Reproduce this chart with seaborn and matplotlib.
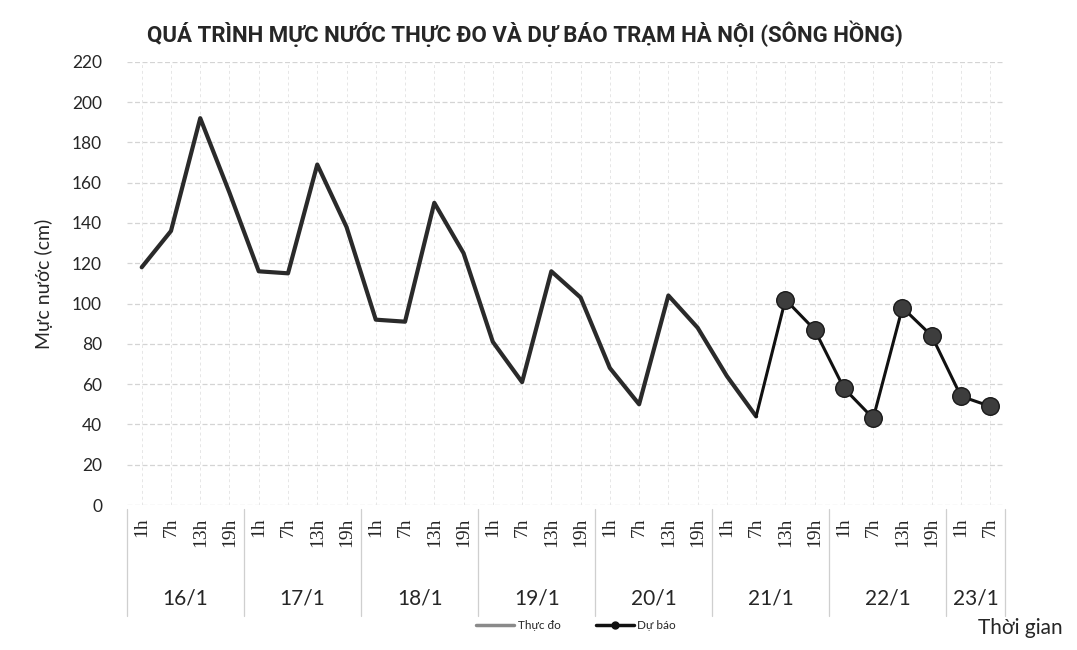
import numpy as np
import pandas as pd
import matplotlib.pyplot as plt
import seaborn as sns
from matplotlib.lines import Line2D

# Data
days = ['16/1', '17/1', '18/1', '19/1', '20/1', '21/1', '22/1', '23/1']
day_sizes = [4, 4, 4, 4, 4, 4, 4, 2]
hours = ['1h', '7h', '13h', '19h']

# Observed water level (cm), 16/1 1h -> 21/1 7h
observed = [118, 136, 192, 155, 116, 115, 169, 138, 92, 91, 150, 125,
            81, 61, 116, 103, 68, 50, 104, 88, 64, 44]
# Forecast water level (cm), 21/1 13h -> 23/1 7h
forecast = [102, 87, 58, 43, 98, 84, 54, 49]

hour_labels = [h for n in day_sizes for h in hours[:n]]
n_pts = len(hour_labels)

obs_df = pd.DataFrame({'x': np.arange(len(observed)), 'y': observed})
# forecast line starts from the last observed point
fc_line = pd.DataFrame({'x': np.arange(len(observed) - 1, n_pts),
                        'y': [observed[-1]] + forecast})
fc_pts = pd.DataFrame({'x': np.arange(len(observed), n_pts), 'y': forecast})

sns.set_theme(style='white')
plt.rcParams['font.family'] = ['Lato', 'DejaVu Sans']

fig = plt.figure(figsize=(10.77, 6.5), dpi=100)
ax = fig.add_axes([0.118, 0.223, 0.815, 0.682])

# grid
for v in range(0, 221, 20):
    ax.axhline(v, color='#d4d4d4', lw=0.9, ls=(0, (4, 2)), zorder=0)
for i in range(n_pts):
    ax.axvline(i, color='#e6e6e6', lw=0.7, ls=(0, (3, 3)), zorder=0)

sns.lineplot(data=obs_df, x='x', y='y', ax=ax, color='#2a2a2a', lw=3.0)
sns.lineplot(data=fc_line, x='x', y='y', ax=ax, color='#111111', lw=2.2)
sns.scatterplot(data=fc_pts, x='x', y='y', ax=ax, color='#3d3d3d', s=160,
                edgecolor='#1a1a1a', linewidth=1.0, zorder=5)

ax.set_xlim(-0.5, n_pts - 0.5)
ax.set_ylim(0, 220)
ax.set_yticks(range(0, 221, 20))
ax.tick_params(axis='y', labelsize=12.5, pad=18, length=0)
ax.set_xticks(range(n_pts))
ax.set_xticklabels(hour_labels, rotation=90, va='top', ha='center', fontsize=14,
                   family=['Liberation Serif', 'DejaVu Serif'])
ax.tick_params(axis='x', length=0, pad=9)
ax.set_xlabel('')
ax.set_ylabel('Mực nước (cm)', fontsize=14, labelpad=14)
for s in ax.spines.values():
    s.set_visible(False)

# day labels and separators
trans = ax.get_xaxis_transform()
edges = np.concatenate([[0], np.cumsum(day_sizes)]) - 0.5
for d, a, b in zip(days, edges[:-1], edges[1:]):
    ax.text((a + b) / 2, -0.21, d, transform=trans, ha='center', va='center',
            fontsize=15)
for e in edges:
    ax.add_line(Line2D([e, e], [-0.01, -0.25], transform=trans, color='#cfcfcf',
                       lw=0.9, clip_on=False))

fig.text(0.487, 0.948, 'QUÁ TRÌNH MỰC NƯỚC THỰC ĐO VÀ DỰ BÁO TRẠM HÀ NỘI (SÔNG HỒNG)',
         ha='center', va='center', fontsize=16, fontweight='bold',
         family=['Roboto', 'DejaVu Sans'])
fig.text(0.947, 0.034, 'Thời gian', ha='center', va='center', fontsize=15)

handles = [Line2D([], [], color='#8a8a8a', lw=2.5),
           Line2D([], [], color='#111111', lw=2.5, marker='o', markersize=5)]
fig.legend(handles, ['Thực đo', 'Dự báo'], loc='center', bbox_to_anchor=(0.535, 0.038),
           ncol=2, frameon=False, fontsize=8.5, handlelength=3.2, columnspacing=3,
           handletextpad=0.3)

fig.savefig('out.png', dpi=100)
